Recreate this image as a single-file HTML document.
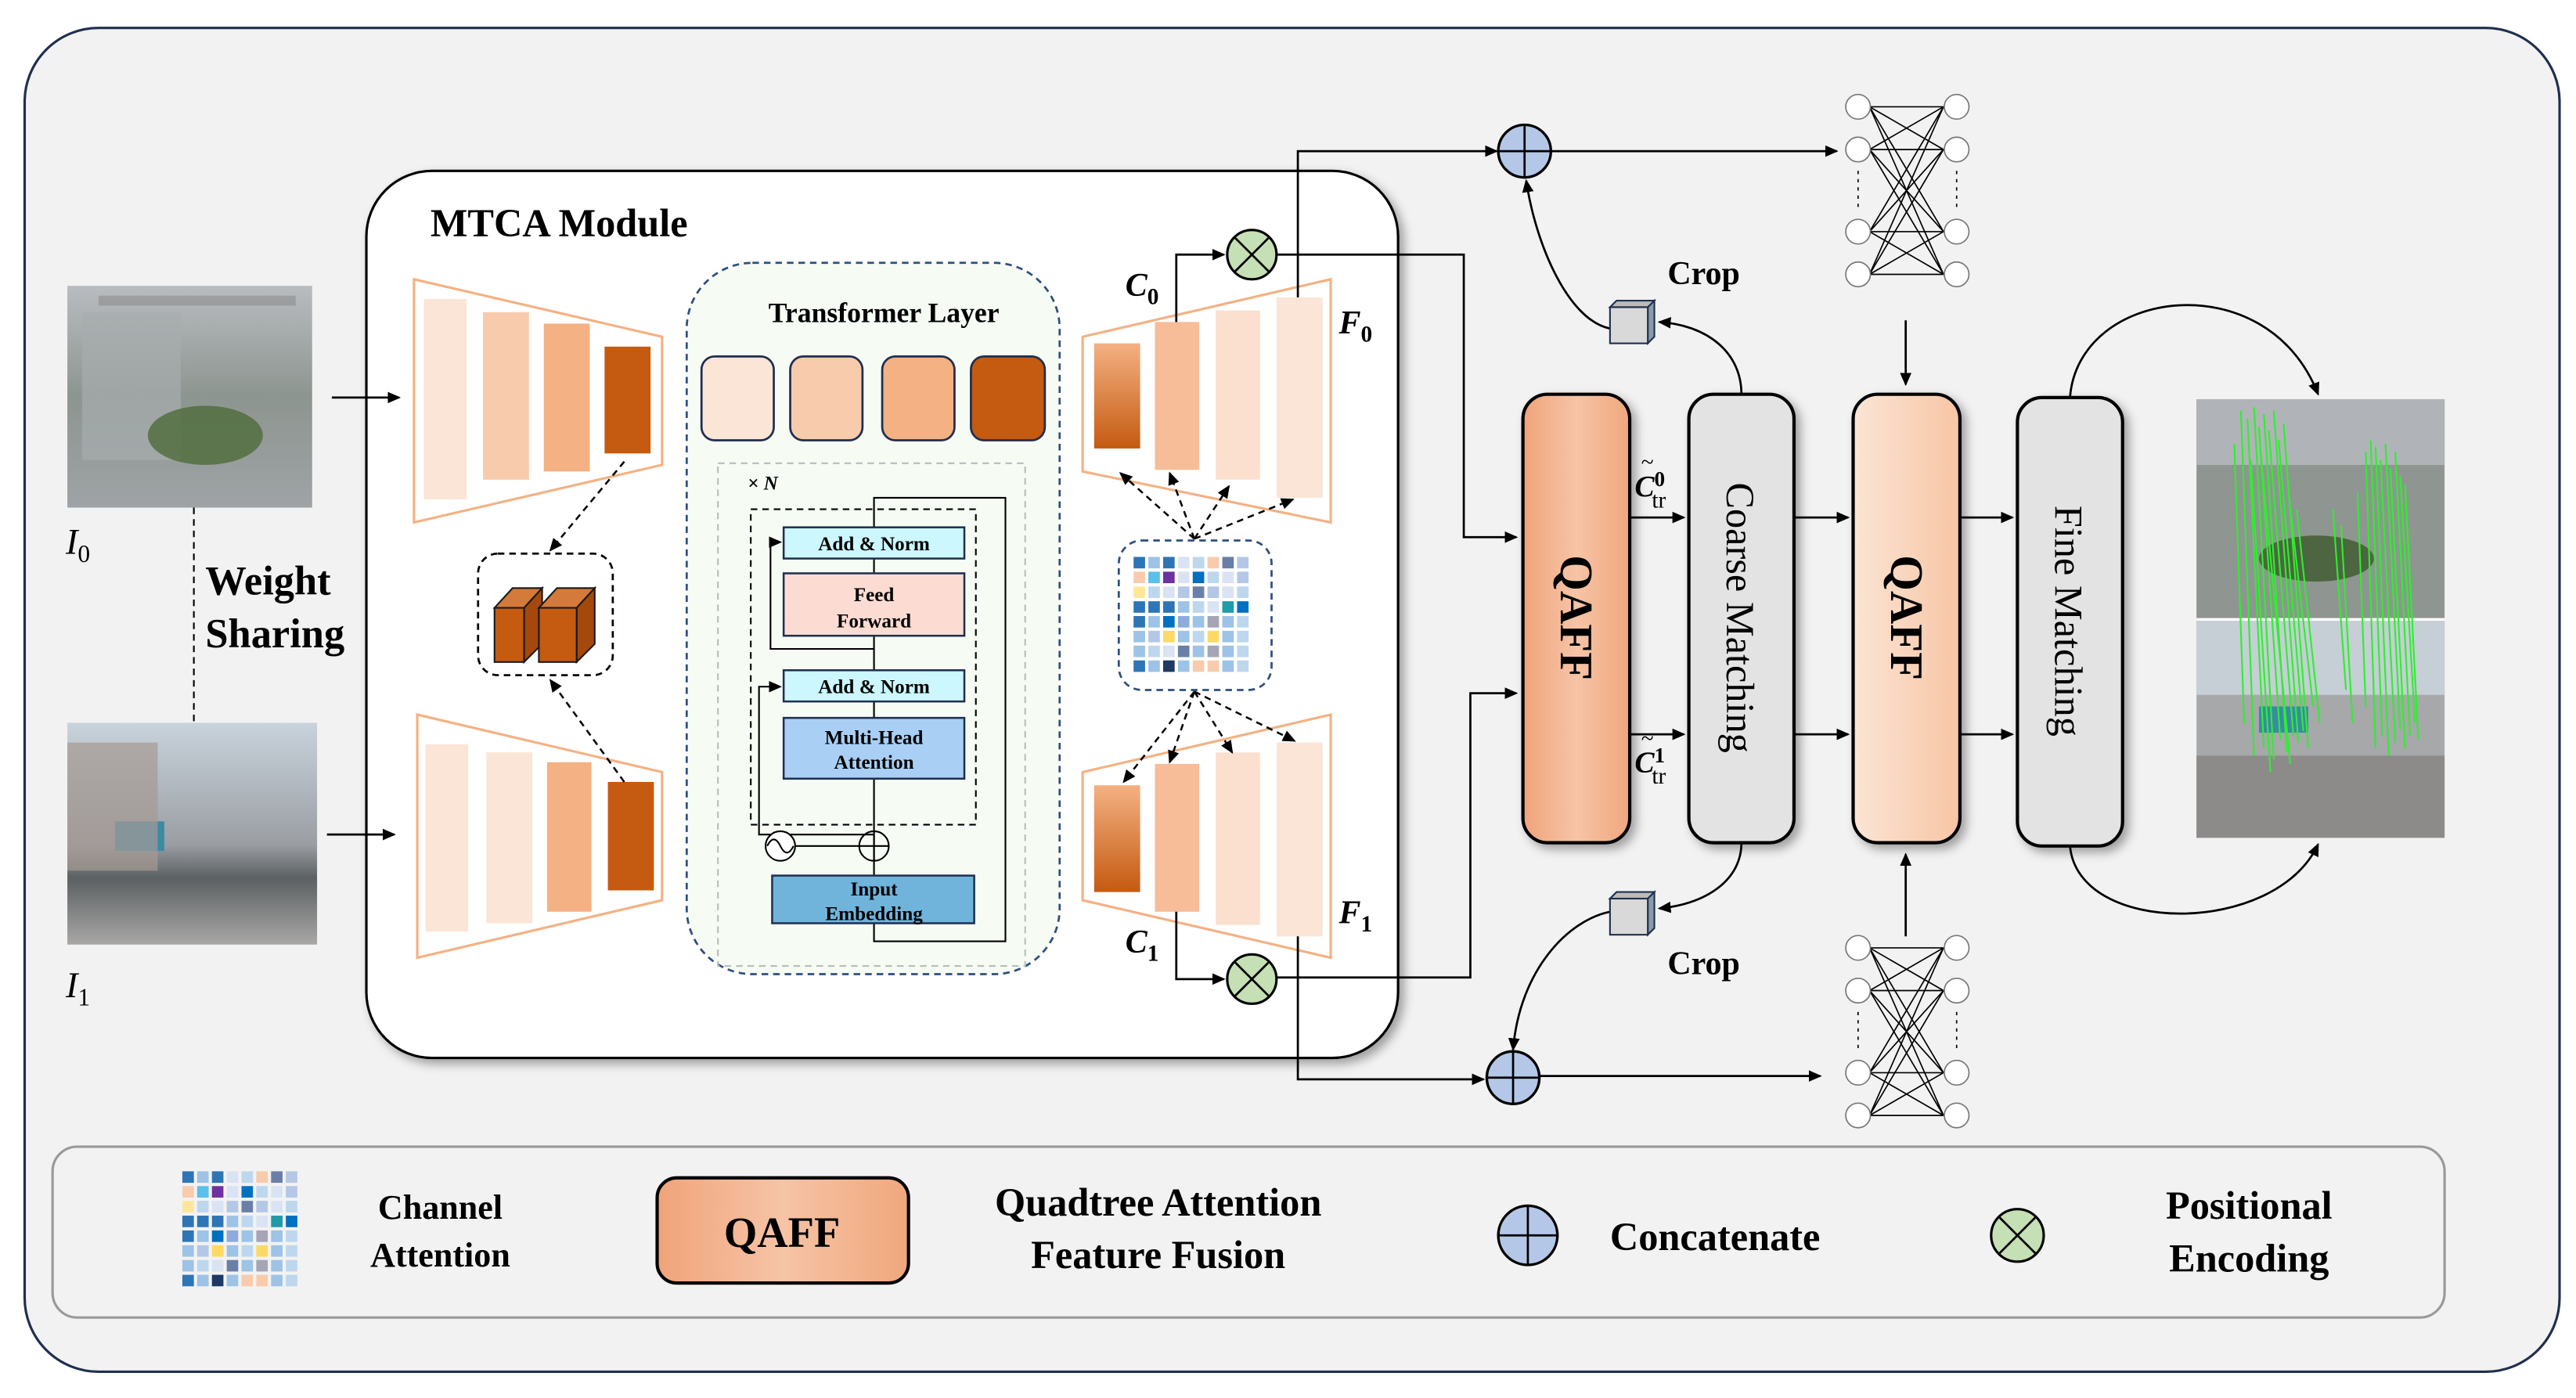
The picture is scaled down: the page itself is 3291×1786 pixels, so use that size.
<!DOCTYPE html>
<html><head><meta charset="utf-8"><style>
html,body{margin:0;padding:0;background:#fff;}
svg{display:block;}
text{font-family:"Liberation Serif",serif;font-weight:bold;fill:#000;}
</style></head><body>
<svg width="3291" height="1786" viewBox="0 0 1568 851" preserveAspectRatio="none" xmlns="http://www.w3.org/2000/svg">
<defs>
<marker id="ar" markerWidth="8" markerHeight="8" refX="7" refY="4" orient="auto" markerUnits="userSpaceOnUse"><path d="M0,0.5 L8,4 L0,7.5 Z" fill="#000"/></marker>
<linearGradient id="q1" x1="0" x2="1"><stop offset="0" stop-color="#f0a37a"/><stop offset="0.5" stop-color="#f6c4a6"/><stop offset="1" stop-color="#f0a77c"/></linearGradient>
<linearGradient id="q2" x1="0" x2="1"><stop offset="0" stop-color="#fbe5d6"/><stop offset="1" stop-color="#f7c5a4"/></linearGradient>
<linearGradient id="db" x1="0" y1="0" x2="0" y2="1"><stop offset="0" stop-color="#f4b183"/><stop offset="1" stop-color="#c55a11"/></linearGradient>
<linearGradient id="p0" x1="0" y1="0" x2="0" y2="1"><stop offset="0" stop-color="#b9bcc0"/><stop offset="0.5" stop-color="#8d9590"/><stop offset="1" stop-color="#9fa3a6"/></linearGradient>
<linearGradient id="p1" x1="0" y1="0" x2="0" y2="1"><stop offset="0" stop-color="#c9d3dc"/><stop offset="0.55" stop-color="#9a9ea3"/><stop offset="0.7" stop-color="#5b6062"/><stop offset="1" stop-color="#a9a7a6"/></linearGradient>
<filter id="sh" x="-10%" y="-10%" width="120%" height="120%"><feDropShadow dx="3" dy="3" stdDeviation="3" flood-color="#000" flood-opacity="0.35"/></filter>
</defs>
<rect x="0" y="0" width="1568" height="851" fill="#fff"/>
<rect x="15" y="17" width="1543" height="818" rx="45" fill="#f2f2f2" stroke="#1f2f4f" stroke-width="1.5"/>
<rect x="32" y="698" width="1456" height="104" rx="15" fill="#f2f2f2" stroke="#999" stroke-width="1.5"/>

<rect x="41" y="174" width="149" height="135" fill="url(#p0)"/>
<rect x="50" y="190" width="60" height="90" fill="#a7acae" opacity="0.7"/>
<ellipse cx="125" cy="265" rx="35" ry="18" fill="#4d6b3a" opacity="0.8"/>
<rect x="60" y="180" width="120" height="6" fill="#777" opacity="0.4"/>
<rect x="41" y="440" width="152" height="135" fill="url(#p1)"/>
<rect x="70" y="500" width="30" height="18" fill="#3b8aa6"/>
<rect x="41" y="452" width="55" height="78" fill="#a59a94" opacity="0.7"/>
<text x="40" y="337" font-size="22" font-style="italic" style="font-weight:normal">I<tspan font-size="15" dy="5" style="font-style:normal">0</tspan></text>
<text x="40" y="607" font-size="22" font-style="italic" style="font-weight:normal">I<tspan font-size="15" dy="5" style="font-style:normal">1</tspan></text>
<line x1="118" y1="309" x2="118" y2="440" stroke="#000" stroke-dasharray="4,3"/>
<text x="125" y="362" font-size="25">Weight</text>
<text x="125" y="394" font-size="25">Sharing</text>

<rect x="223" y="104" width="628" height="540" rx="40" fill="#fff" stroke="#000" stroke-width="1.5" filter="url(#sh)"/>
<text x="262" y="144" font-size="24">MTCA Module</text>
<line x1="202" y1="242" x2="243" y2="242" stroke="#000" stroke-width="1.3" marker-end="url(#ar)"/>
<line x1="199" y1="508" x2="240" y2="508" stroke="#000" stroke-width="1.3" marker-end="url(#ar)"/>

<polygon points="252,170 403,205 403,283 252,318" fill="none" stroke="#f4b183" stroke-width="1.5"/>
<rect x="258" y="182" width="26" height="122" fill="#fbe5d6"/>
<rect x="294" y="190" width="28" height="102" fill="#f8cbad"/>
<rect x="331" y="197" width="28" height="90" fill="#f4b183"/>
<rect x="368" y="211" width="28" height="65" fill="#c55a11"/>
<polygon points="254,435 403,470 403,548 254,583" fill="none" stroke="#f4b183" stroke-width="1.5"/>
<rect x="259" y="453" width="26" height="114" fill="#fbe5d6"/>
<rect x="296" y="458" width="28" height="104" fill="#fbe5d6"/>
<rect x="333" y="464" width="27" height="91" fill="#f4b183"/>
<rect x="370" y="476" width="28" height="66" fill="#c55a11"/>

<rect x="291" y="337" width="82" height="74" rx="12" fill="#fff" stroke="#000" stroke-dasharray="4,3" stroke-width="1.3"/>
<g stroke="#1a1a1a" stroke-width="1">
<polygon points="301,370 312,358 330,358 319,370" fill="#d47a3a"/>
<polygon points="319,370 330,358 330,392 319,403" fill="#a4480c"/>
<rect x="301" y="370" width="18" height="33" fill="#c55a11"/>
<polygon points="328,370 339,358 362,358 351,370" fill="#d47a3a"/>
<polygon points="351,370 362,358 362,392 351,403" fill="#a4480c"/>
<rect x="328" y="370" width="23" height="33" fill="#c55a11"/>
</g>
<line x1="380" y1="281" x2="335" y2="335" stroke="#000" stroke-dasharray="4,3" stroke-width="1.2" marker-end="url(#ar)"/>
<line x1="380" y1="476" x2="335" y2="414" stroke="#000" stroke-dasharray="4,3" stroke-width="1.2" marker-end="url(#ar)"/>

<rect x="418" y="160" width="227" height="433" rx="40" fill="#f6fbf4" stroke="#2f4f7f" stroke-dasharray="4,3" stroke-width="1.3"/>
<text x="538" y="196" font-size="17" text-anchor="middle">Transformer Layer</text>
<g stroke="#1f2f4f" stroke-width="1.3">
<rect x="427" y="217" width="44" height="51" rx="8" fill="#fbe5d6"/>
<rect x="481" y="217" width="44" height="51" rx="8" fill="#f8cbad"/>
<rect x="537" y="217" width="44" height="51" rx="8" fill="#f4b183"/>
<rect x="591" y="217" width="45" height="51" rx="8" fill="#c55a11"/>
</g>
<rect x="437" y="282" width="187" height="306" fill="none" stroke="#bbb" stroke-dasharray="4,3"/>
<text x="455" y="298" font-size="12" font-style="italic">× N</text>
<rect x="457" y="310" width="137" height="192" fill="none" stroke="#000" stroke-dasharray="4,3"/>
<g fill="none" stroke="#000" stroke-width="1">
<polyline points="532,562 532,573 612,573 612,303 532,303 532,321"/>
<line x1="532" y1="533" x2="532" y2="474"/>
<line x1="532" y1="437" x2="532" y2="427"/>
<line x1="532" y1="408" x2="532" y2="387"/>
<line x1="532" y1="349" x2="532" y2="340"/>
<polyline points="532,508 462,508 462,418 475,418" marker-end="url(#ar)"/>
<polyline points="532,395 469,395 469,330 475,330" marker-end="url(#ar)"/>
<line x1="484" y1="515" x2="523" y2="515"/>
</g>
<g stroke="#1f2f4f" stroke-width="1.2">
<rect x="477" y="321" width="110" height="19" fill="#ccf7ff"/>
<rect x="477" y="349" width="110" height="38" fill="#fcdcd2"/>
<rect x="477" y="408" width="110" height="19" fill="#ccf7ff"/>
<rect x="477" y="437" width="110" height="37" fill="#a9cff5"/>
<rect x="470" y="533" width="123" height="29" fill="#70b4dc"/>
</g>
<text x="532" y="335" font-size="12" text-anchor="middle">Add &amp; Norm</text>
<text x="532" y="366" font-size="12" text-anchor="middle">Feed</text>
<text x="532" y="382" font-size="12" text-anchor="middle">Forward</text>
<text x="532" y="422" font-size="12" text-anchor="middle">Add &amp; Norm</text>
<text x="532" y="453" font-size="12" text-anchor="middle">Multi-Head</text>
<text x="532" y="468" font-size="12" text-anchor="middle">Attention</text>
<text x="532" y="545" font-size="12" text-anchor="middle">Input</text>
<text x="532" y="560" font-size="12" text-anchor="middle">Embedding</text>
<circle cx="532" cy="515" r="9" fill="none" stroke="#000"/>
<line x1="523" y1="515" x2="541" y2="515" stroke="#000"/><line x1="532" y1="506" x2="532" y2="524" stroke="#000"/>
<circle cx="475" cy="515" r="9" fill="#fff" stroke="#000"/>
<path d="M467,515 Q471,507 475,515 Q479,523 483,515" fill="none" stroke="#000"/>

<polygon points="659,205 810,170 810,318 659,287" fill="none" stroke="#f4b183" stroke-width="1.5"/>
<rect x="666" y="209" width="28" height="64" fill="url(#db)"/>
<rect x="703" y="196" width="27" height="90" fill="#f6bd98"/>
<rect x="740" y="189" width="27" height="103" fill="#fbe0cf"/>
<rect x="777" y="181" width="28" height="122" fill="#fbe5d6"/>
<polygon points="659,470 810,435 810,583 659,548" fill="none" stroke="#f4b183" stroke-width="1.5"/>
<rect x="666" y="478" width="28" height="65" fill="url(#db)"/>
<rect x="703" y="465" width="27" height="90" fill="#f6bd98"/>
<rect x="740" y="458" width="27" height="105" fill="#fbe0cf"/>
<rect x="777" y="452" width="28" height="118" fill="#fbe5d6"/>

<rect x="681" y="329" width="93" height="91" rx="14" fill="#fff" stroke="#2f4f7f" stroke-dasharray="4,3" stroke-width="1.3"/>
<g id="grid">
<rect x="690" y="339" width="7" height="7" fill="#2e75b6"/><rect x="699" y="339" width="7" height="7" fill="#9dc3e6"/><rect x="708" y="339" width="7" height="7" fill="#2e75b6"/><rect x="717" y="339" width="7" height="7" fill="#dae3f3"/><rect x="726" y="339" width="7" height="7" fill="#bdd7ee"/><rect x="735" y="339" width="7" height="7" fill="#f8cbad"/><rect x="744" y="339" width="7" height="7" fill="#6a7fa8"/><rect x="753" y="339" width="7" height="7" fill="#b4c7e7"/>
<rect x="690" y="348" width="7" height="7" fill="#f8cbad"/><rect x="699" y="348" width="7" height="7" fill="#5bc0eb"/><rect x="708" y="348" width="7" height="7" fill="#7030a0"/><rect x="717" y="348" width="7" height="7" fill="#dae3f3"/><rect x="726" y="348" width="7" height="7" fill="#0070c0"/><rect x="735" y="348" width="7" height="7" fill="#bdd7ee"/><rect x="744" y="348" width="7" height="7" fill="#dae3f3"/><rect x="753" y="348" width="7" height="7" fill="#b4c7e7"/>
<rect x="690" y="357" width="7" height="7" fill="#ffe699"/><rect x="699" y="357" width="7" height="7" fill="#bdd7ee"/><rect x="708" y="357" width="7" height="7" fill="#dae3f3"/><rect x="717" y="357" width="7" height="7" fill="#b4c7e7"/><rect x="726" y="357" width="7" height="7" fill="#6a7fa8"/><rect x="735" y="357" width="7" height="7" fill="#b4c7e7"/><rect x="744" y="357" width="7" height="7" fill="#dae3f3"/><rect x="753" y="357" width="7" height="7" fill="#bdd7ee"/>
<rect x="690" y="366" width="7" height="7" fill="#2e75b6"/><rect x="699" y="366" width="7" height="7" fill="#2e75b6"/><rect x="708" y="366" width="7" height="7" fill="#2e75b6"/><rect x="717" y="366" width="7" height="7" fill="#9dc3e6"/><rect x="726" y="366" width="7" height="7" fill="#bdd7ee"/><rect x="735" y="366" width="7" height="7" fill="#dae3f3"/><rect x="744" y="366" width="7" height="7" fill="#1f9aa8"/><rect x="753" y="366" width="7" height="7" fill="#0070c0"/>
<rect x="690" y="375" width="7" height="7" fill="#2e75b6"/><rect x="699" y="375" width="7" height="7" fill="#9dc3e6"/><rect x="708" y="375" width="7" height="7" fill="#0070c0"/><rect x="717" y="375" width="7" height="7" fill="#8faadc"/><rect x="726" y="375" width="7" height="7" fill="#9dc3e6"/><rect x="735" y="375" width="7" height="7" fill="#a5a5b5"/><rect x="744" y="375" width="7" height="7" fill="#9dc3e6"/><rect x="753" y="375" width="7" height="7" fill="#bdd7ee"/>
<rect x="690" y="384" width="7" height="7" fill="#9dc3e6"/><rect x="699" y="384" width="7" height="7" fill="#b4c7e7"/><rect x="708" y="384" width="7" height="7" fill="#ffd966"/><rect x="717" y="384" width="7" height="7" fill="#9dc3e6"/><rect x="726" y="384" width="7" height="7" fill="#bdd7ee"/><rect x="735" y="384" width="7" height="7" fill="#ffd966"/><rect x="744" y="384" width="7" height="7" fill="#9dc3e6"/><rect x="753" y="384" width="7" height="7" fill="#bdd7ee"/>
<rect x="690" y="393" width="7" height="7" fill="#9dc3e6"/><rect x="699" y="393" width="7" height="7" fill="#bdd7ee"/><rect x="708" y="393" width="7" height="7" fill="#dae3f3"/><rect x="717" y="393" width="7" height="7" fill="#6a7fa8"/><rect x="726" y="393" width="7" height="7" fill="#9dc3e6"/><rect x="735" y="393" width="7" height="7" fill="#a5a5b5"/><rect x="744" y="393" width="7" height="7" fill="#9dc3e6"/><rect x="753" y="393" width="7" height="7" fill="#bdd7ee"/>
<rect x="690" y="402" width="7" height="7" fill="#2e75b6"/><rect x="699" y="402" width="7" height="7" fill="#9dc3e6"/><rect x="708" y="402" width="7" height="7" fill="#1f3864"/><rect x="717" y="402" width="7" height="7" fill="#9dc3e6"/><rect x="726" y="402" width="7" height="7" fill="#f8cbad"/><rect x="735" y="402" width="7" height="7" fill="#f8cbad"/><rect x="744" y="402" width="7" height="7" fill="#9dc3e6"/><rect x="753" y="402" width="7" height="7" fill="#bdd7ee"/>
</g>
<g stroke="#000" stroke-dasharray="4,3" stroke-width="1.2" fill="none">
<line x1="727" y1="328" x2="682" y2="288" marker-end="url(#ar)"/>
<line x1="727" y1="328" x2="712" y2="288" marker-end="url(#ar)"/>
<line x1="727" y1="328" x2="748" y2="296" marker-end="url(#ar)"/>
<line x1="727" y1="328" x2="787" y2="304" marker-end="url(#ar)"/>
<line x1="727" y1="421" x2="684" y2="476" marker-end="url(#ar)"/>
<line x1="727" y1="421" x2="712" y2="464" marker-end="url(#ar)"/>
<line x1="727" y1="421" x2="750" y2="458" marker-end="url(#ar)"/>
<line x1="727" y1="421" x2="788" y2="451" marker-end="url(#ar)"/>
</g>
<text x="685" y="180" font-size="20" font-style="italic">C<tspan font-size="14" dy="5" style="font-style:normal">0</tspan></text>
<text x="815" y="203" font-size="20" font-style="italic">F<tspan font-size="14" dy="5" style="font-style:normal">0</tspan></text>
<text x="685" y="580" font-size="20" font-style="italic">C<tspan font-size="14" dy="5" style="font-style:normal">1</tspan></text>
<text x="815" y="562" font-size="20" font-style="italic">F<tspan font-size="14" dy="5" style="font-style:normal">1</tspan></text>

<g fill="none" stroke="#000" stroke-width="1.3">
<polyline points="716,196 716,155 745,155" marker-end="url(#ar)"/>
<polyline points="716,555 716,596 745,596" marker-end="url(#ar)"/>
<polyline points="777,155 891,155 891,327 923,327" marker-end="url(#ar)"/>
<polyline points="777,595 895,595 895,422 923,422" marker-end="url(#ar)"/>
<polyline points="790,181 790,92 911,92" marker-end="url(#ar)"/>
<polyline points="790,570 790,657 903,657" marker-end="url(#ar)"/>
<line x1="944" y1="92" x2="1118" y2="92" marker-end="url(#ar)"/>
<line x1="937" y1="655" x2="1108" y2="655" marker-end="url(#ar)"/>
<line x1="1160" y1="195" x2="1160" y2="234" marker-end="url(#ar)"/>
<line x1="1160" y1="570" x2="1160" y2="520" marker-end="url(#ar)"/>
<line x1="992" y1="315" x2="1025" y2="315" marker-end="url(#ar)"/>
<line x1="992" y1="447" x2="1025" y2="447" marker-end="url(#ar)"/>
<line x1="1092" y1="315" x2="1125" y2="315" marker-end="url(#ar)"/>
<line x1="1092" y1="447" x2="1125" y2="447" marker-end="url(#ar)"/>
<line x1="1193" y1="315" x2="1225" y2="315" marker-end="url(#ar)"/>
<line x1="1193" y1="447" x2="1225" y2="447" marker-end="url(#ar)"/>
<path d="M1060,240 C1060,215 1040,198 1010,196" marker-end="url(#ar)"/>
<path d="M980,200 C955,195 935,150 929,110" marker-end="url(#ar)"/>
<path d="M1060,513 C1060,535 1040,550 1010,553" marker-end="url(#ar)"/>
<path d="M980,555 C955,560 925,590 921,639" marker-end="url(#ar)"/>
<path d="M1260,242 C1265,175 1380,160 1411,240" marker-end="url(#ar)"/>
<path d="M1260,515 C1265,570 1385,570 1411,514" marker-end="url(#ar)"/>
</g>
<circle cx="762" cy="155" r="15" fill="#c5e0b4" stroke="#000" stroke-width="1.5"/>
<path d="M751,144 L773,166 M773,144 L751,166" stroke="#000" stroke-width="1.3"/>
<circle cx="762" cy="596" r="15" fill="#c5e0b4" stroke="#000" stroke-width="1.5"/>
<path d="M751,585 L773,607 M773,585 L751,607" stroke="#000" stroke-width="1.3"/>
<circle cx="928" cy="92" r="16" fill="#b4c7e7" stroke="#000" stroke-width="1.6"/>
<path d="M912,92 L944,92 M928,76 L928,108" stroke="#000" stroke-width="1.3"/>
<circle cx="921" cy="656" r="16" fill="#b4c7e7" stroke="#000" stroke-width="1.6"/>
<path d="M905,656 L937,656 M921,640 L921,672" stroke="#000" stroke-width="1.3"/>

<g stroke="#1f2f4f" stroke-width="1">
<polygon points="980,187 984,183 1007,183 1003,187" fill="#bbb"/><polygon points="1003,187 1007,183 1007,205 1003,209" fill="#8a9aaa"/><rect x="980" y="187" width="23" height="22" fill="#d9d9d9"/>
<polygon points="980,547 984,543 1007,543 1003,547" fill="#bbb"/><polygon points="1003,547 1007,543 1007,565 1003,569" fill="#8a9aaa"/><rect x="980" y="547" width="23" height="22" fill="#d9d9d9"/>
</g>
<text x="1015" y="173" font-size="20">Crop</text>
<text x="1015" y="593" font-size="20">Crop</text>
<text x="995" y="302" font-size="18" font-style="italic">C<tspan font-size="13" dy="-6" style="font-style:normal">0</tspan><tspan font-size="14" dx="-8" dy="13" style="font-style:normal;font-weight:normal">tr</tspan></text>
<text x="999" y="286" font-size="14" style="font-weight:normal">~</text>
<text x="995" y="470" font-size="18" font-style="italic">C<tspan font-size="13" dy="-6" style="font-style:normal">1</tspan><tspan font-size="14" dx="-8" dy="13" style="font-style:normal;font-weight:normal">tr</tspan></text>
<text x="999" y="454" font-size="14" style="font-weight:normal">~</text>

<g stroke="#000" stroke-width="2" filter="url(#sh)">
<rect x="927" y="240" width="65" height="273" rx="15" fill="url(#q1)"/>
<rect x="1028" y="240" width="64" height="273" rx="15" fill="#e3e3e3"/>
<rect x="1128" y="240" width="65" height="273" rx="15" fill="url(#q2)"/>
<rect x="1228" y="242" width="64" height="273" rx="15" fill="#e3e3e3"/>
</g>
<text transform="translate(950,376) rotate(90)" font-size="28" text-anchor="middle">QAFF</text>
<text transform="translate(1051,376) rotate(90)" font-size="24" text-anchor="middle" style="font-weight:normal">Coarse Matching</text>
<text transform="translate(1151,376) rotate(90)" font-size="28" text-anchor="middle">QAFF</text>
<text transform="translate(1251,378) rotate(90)" font-size="24" text-anchor="middle" style="font-weight:normal">Fine Matching</text>

<g id="net" fill="none" stroke="#000" stroke-width="0.8">
<line x1="1138" y1="65" x2="1183" y2="65"/><line x1="1138" y1="65" x2="1183" y2="91"/><line x1="1138" y1="65" x2="1183" y2="141"/><line x1="1138" y1="65" x2="1183" y2="167"/>
<line x1="1138" y1="91" x2="1183" y2="65"/><line x1="1138" y1="91" x2="1183" y2="91"/><line x1="1138" y1="91" x2="1183" y2="141"/><line x1="1138" y1="91" x2="1183" y2="167"/>
<line x1="1138" y1="141" x2="1183" y2="65"/><line x1="1138" y1="141" x2="1183" y2="91"/><line x1="1138" y1="141" x2="1183" y2="141"/><line x1="1138" y1="141" x2="1183" y2="167"/>
<line x1="1138" y1="167" x2="1183" y2="65"/><line x1="1138" y1="167" x2="1183" y2="91"/><line x1="1138" y1="167" x2="1183" y2="141"/><line x1="1138" y1="167" x2="1183" y2="167"/>
<g fill="#fff" stroke="#777"><circle cx="1131" cy="65" r="7.5"/><circle cx="1131" cy="91" r="7.5"/><circle cx="1131" cy="141" r="7.5"/><circle cx="1131" cy="167" r="7.5"/><circle cx="1191" cy="65" r="7.5"/><circle cx="1191" cy="91" r="7.5"/><circle cx="1191" cy="141" r="7.5"/><circle cx="1191" cy="167" r="7.5"/></g>
<line x1="1131" y1="104" x2="1131" y2="128" stroke-dasharray="2,3"/><line x1="1191" y1="104" x2="1191" y2="128" stroke-dasharray="2,3"/>
</g>
<use href="#net" transform="translate(0,512)"/>

<rect x="1337" y="243" width="151" height="134" fill="#8f9591"/>
<rect x="1337" y="243" width="151" height="40" fill="#b0b4b8"/>
<ellipse cx="1410" cy="340" rx="35" ry="14" fill="#4d6540"/>
<rect x="1337" y="378" width="151" height="132" fill="#a6a8aa"/>
<rect x="1337" y="378" width="151" height="45" fill="#c6ced6"/>
<rect x="1375" y="430" width="30" height="16" fill="#3b8aa6"/>
<rect x="1337" y="460" width="151" height="50" fill="#8d8b8a"/>
<line x1="1337" y1="377" x2="1488" y2="377" stroke="#fff" stroke-width="1.5"/>
<g stroke="#2cf02c" stroke-width="1">
<line x1="1364" y1="250" x2="1372" y2="460"/><line x1="1368" y1="255" x2="1378" y2="455"/><line x1="1372" y1="248" x2="1384" y2="462"/><line x1="1375" y1="260" x2="1388" y2="450"/><line x1="1378" y1="252" x2="1392" y2="458"/><line x1="1381" y1="262" x2="1396" y2="448"/><line x1="1384" y1="250" x2="1399" y2="452"/><line x1="1387" y1="268" x2="1402" y2="445"/><line x1="1360" y1="270" x2="1366" y2="440"/><line x1="1390" y1="258" x2="1405" y2="455"/><line x1="1370" y1="280" x2="1382" y2="470"/><line x1="1376" y1="275" x2="1394" y2="465"/><line x1="1393" y1="300" x2="1408" y2="430"/><line x1="1398" y1="310" x2="1412" y2="440"/>
<line x1="1440" y1="275" x2="1446" y2="455"/><line x1="1443" y1="268" x2="1450" y2="448"/><line x1="1446" y1="272" x2="1454" y2="460"/><line x1="1449" y1="280" x2="1458" y2="452"/><line x1="1452" y1="270" x2="1461" y2="444"/><line x1="1455" y1="285" x2="1464" y2="456"/><line x1="1458" y1="275" x2="1467" y2="448"/><line x1="1461" y1="290" x2="1470" y2="440"/><line x1="1435" y1="300" x2="1440" y2="430"/><line x1="1464" y1="295" x2="1472" y2="450"/><line x1="1420" y1="310" x2="1428" y2="420"/><line x1="1425" y1="320" x2="1432" y2="440"/>
</g>

<use href="#grid" transform="translate(-579,374)"/>
<text x="268" y="742" font-size="21" text-anchor="middle">Channel</text>
<text x="268" y="771" font-size="21" text-anchor="middle">Attention</text>
<rect x="400" y="717" width="153" height="64" rx="12" fill="url(#q1)" stroke="#000" stroke-width="2"/>
<text x="476" y="759" font-size="26" text-anchor="middle">QAFF</text>
<text x="705" y="740" font-size="24" text-anchor="middle">Quadtree Attention</text>
<text x="705" y="772" font-size="24" text-anchor="middle">Feature Fusion</text>
<circle cx="930" cy="752" r="18" fill="#b4c7e7" stroke="#000" stroke-width="1.6"/>
<path d="M912,752 L948,752 M930,734 L930,770" stroke="#000" stroke-width="1.3"/>
<text x="980" y="761" font-size="24">Concatenate</text>
<circle cx="1228" cy="752" r="16" fill="#c5e0b4" stroke="#000" stroke-width="1.5"/>
<path d="M1217,741 L1239,763 M1239,741 L1217,763" stroke="#000" stroke-width="1.3"/>
<text x="1369" y="742" font-size="24" text-anchor="middle">Positional</text>
<text x="1369" y="774" font-size="24" text-anchor="middle">Encoding</text>
</svg>
</body></html>
